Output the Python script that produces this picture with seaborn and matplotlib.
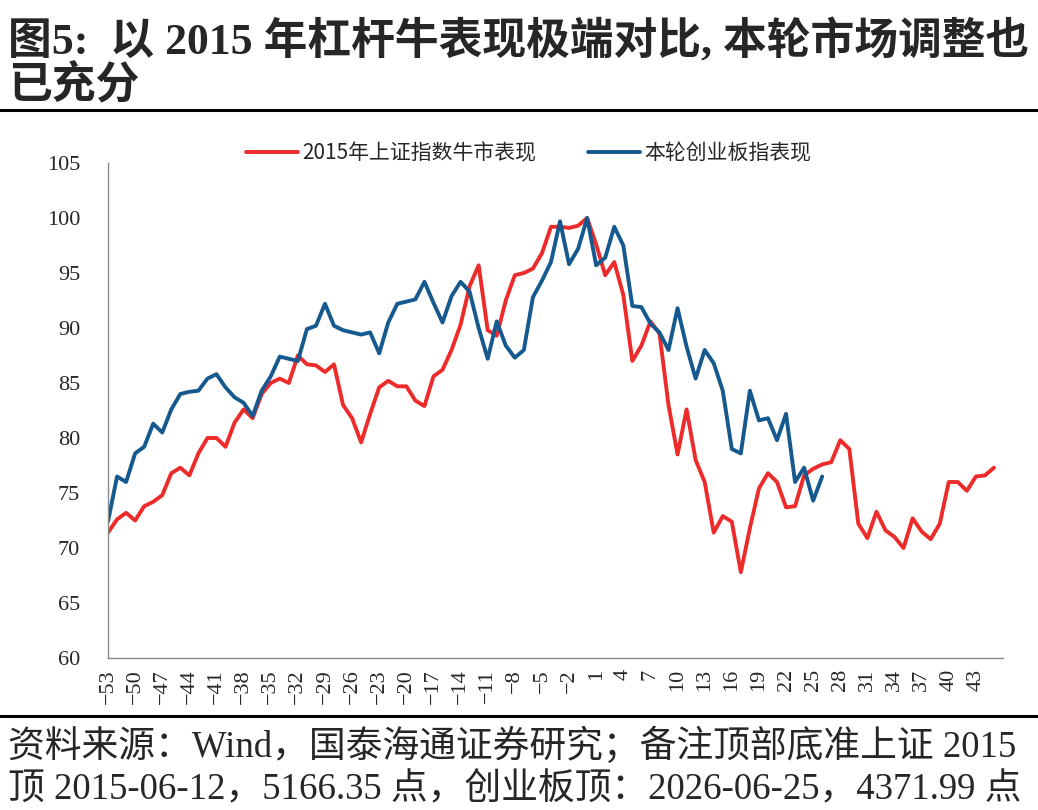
import matplotlib
matplotlib.use("Agg")
import matplotlib.pyplot as plt
import pandas as pd
import seaborn as sns

# weeks relative to the top (0 = top week)
weeks_2015 = list(range(-53, 46))
sse_2015 = [
    71.4, 72.6, 73.2, 72.5, 73.8, 74.2, 74.8, 76.8, 77.3, 76.6,
    78.6, 80.0, 80.0, 79.2, 81.4, 82.6, 81.8, 84.0, 85.0, 85.4,
    85.0, 87.5, 86.7, 86.6, 86.0, 86.7, 83.0, 81.8, 79.6, 82.2,
    84.6, 85.2, 84.7, 84.7, 83.4, 82.9, 85.6, 86.2, 88.0, 90.3,
    93.8, 95.7, 89.8, 89.3, 92.5, 94.8, 95.0, 95.4, 96.8, 99.2,
    99.2, 99.1, 99.3, 100.0, 97.6, 94.8, 96.0, 93.0, 87.0, 88.4,
    90.6, 89.5, 83.0, 78.5, 82.6, 78.0, 76.0, 71.4, 72.9, 72.4,
    67.8, 71.8, 75.4, 76.8, 76.0, 73.7, 73.8, 76.6, 77.2, 77.6,
    77.8, 79.8, 79.0, 72.2, 70.9, 73.3, 71.6, 71.0, 70.0, 72.7,
    71.5, 70.8, 72.2, 76.0, 76.0, 75.2, 76.5, 76.6, 77.3,
]
weeks_now = list(range(-53, 27))
chinext_now = [
    72.4, 76.5, 76.0, 78.6, 79.2, 81.3, 80.5, 82.6, 84.0, 84.2,
    84.3, 85.4, 85.8, 84.6, 83.7, 83.2, 82.0, 84.3, 85.6, 87.4,
    87.2, 87.0, 89.9, 90.2, 92.2, 90.2, 89.8, 89.6, 89.4, 89.6,
    87.7, 90.5, 92.2, 92.4, 92.6, 94.2, 92.3, 90.5, 92.9, 94.2,
    93.3, 90.0, 87.2, 90.6, 88.4, 87.3, 88.0, 92.8, 94.3, 96.0,
    99.7, 95.8, 97.2, 100.0, 95.7, 96.4, 99.2, 97.5, 92.0, 91.9,
    90.4, 89.6, 88.0, 91.8, 88.3, 85.4, 88.0, 86.8, 84.3, 79.0,
    78.6, 84.3, 81.6, 81.8, 79.8, 82.2, 76.0, 77.3, 74.3, 76.5,
]
series_names = ["2015年上证指数牛市表现", "本轮创业板指表现"]
line_colors = ["#EE2B2B", "#15598F"]
x_ticks = list(range(-53, 44, 3)) + [46]
y_ticks = list(range(60, 106, 5))

title_lines = ["图5:  以 2015 年杠杆牛表现极端对比, 本轮市场调整也", "已充分"]
note_lines = [
    "资料来源：Wind，国泰海通证券研究；备注顶部底准上证 2015",
    "顶 2015-06-12，5166.35 点，创业板顶：2026-06-25，4371.99 点",
]

df = pd.concat([
    pd.DataFrame({"week": weeks_2015, "value": sse_2015, "series": series_names[0]}),
    pd.DataFrame({"week": weeks_now, "value": chinext_now, "series": series_names[1]}),
])

sns.set_style("white")
plt.rcParams["font.family"] = ["Noto Sans CJK SC", "DejaVu Sans"]
serif = ["Liberation Serif", "Noto Sans CJK SC"]
tick_font = ["Liberation Serif", "DejaVu Serif"]

W, H = 1038, 810
fig = plt.figure(figsize=(W / 100, H / 100), dpi=100)
ax = fig.add_axes([108 / W, 1 - 658 / H, 895 / W, 495 / H])

sns.lineplot(data=df, x="week", y="value", hue="series", hue_order=series_names,
             palette=line_colors, linewidth=2.8, ax=ax)

ax.set_xlim(-53, 46)
ax.set_ylim(60, 105)
ax.set_yticks(y_ticks)
ax.set_xticks(x_ticks)
ax.set_xticklabels([str(t).replace("-", "\u2212") if t != 46 else "" for t in x_ticks],
                   rotation=90, fontsize=16, family=tick_font)
ax.set_yticklabels([str(t) for t in y_ticks], fontsize=16, family=tick_font)
ax.set_xlabel("")
ax.set_ylabel("")
for side in ["top", "right"]:
    ax.spines[side].set_visible(False)
for side in ["left", "bottom"]:
    ax.spines[side].set_color("#888888")
    ax.spines[side].set_linewidth(1)
ax.tick_params(axis="both", direction="out", length=5, color="#888888", labelcolor="#262626")
ax.tick_params(axis="y", pad=15)
ax.tick_params(axis="x", pad=3)

ax.legend(loc="center", bbox_to_anchor=(0.47, (658 - 153) / 495), ncol=2, frameon=False,
          fontsize=15, handlelength=2.5, columnspacing=2.5, handletextpad=0.2)

# title, rules and source note
fig.text(8 / W, 1 - 42 / H, title_lines[0], fontsize=31.5, fontweight="bold", family=serif, va="center")
fig.text(8 / W, 1 - 86 / H, title_lines[1], fontsize=31.5, fontweight="bold", family=serif, va="center")
fig.add_artist(plt.Line2D([0, 1], [1 - 110 / H] * 2, color="black", lw=2.2, transform=fig.transFigure))
fig.add_artist(plt.Line2D([0, 1], [1 - 716 / H] * 2, color="black", lw=2.2, transform=fig.transFigure))
fig.text(8 / W, 1 - 746 / H, note_lines[0], fontsize=26.5, family=serif, va="center")
fig.text(8 / W, 1 - 790 / H, note_lines[1], fontsize=26.5, family=serif, va="center")

fig.savefig("out.png", dpi=100)
